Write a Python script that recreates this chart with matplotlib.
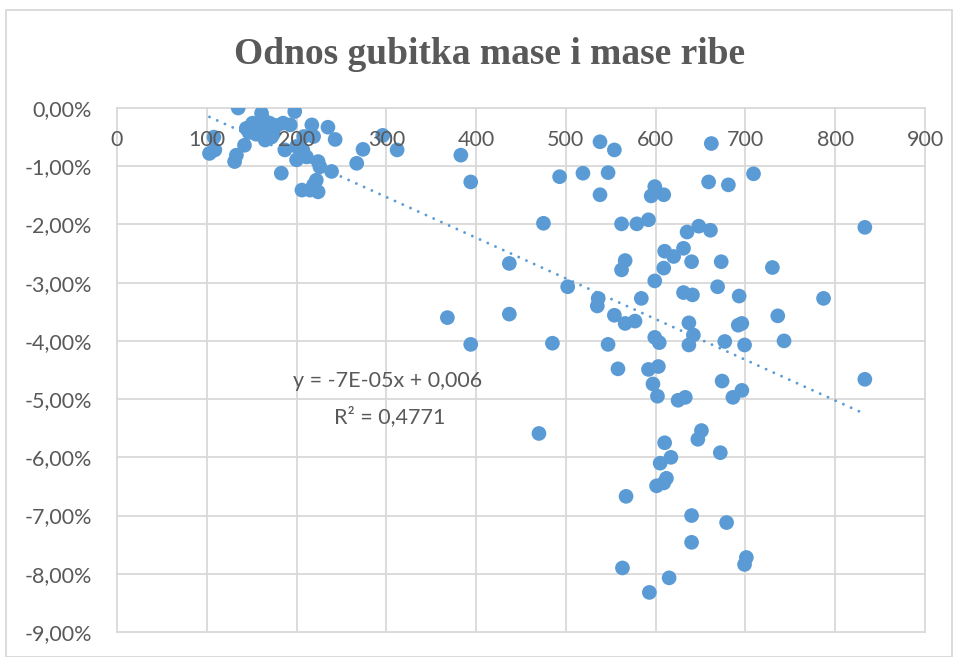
import numpy as np
import matplotlib
matplotlib.use("Agg")
import matplotlib.pyplot as plt
from matplotlib.ticker import FuncFormatter, MultipleLocator
from matplotlib.patches import Rectangle

# ---- data: fish mass (g) and mass loss (%) ----
mass = [103, 109, 108, 131, 133, 135, 142, 144, 147, 151, 155, 158, 161, 163, 165,
        167, 170, 172, 174, 178, 185, 187, 183, 193, 198, 200, 200, 207, 211, 208,
        217, 219, 224, 226, 239, 222, 206, 215, 224, 219, 235, 243, 267, 274, 296,
        312,
        368, 383, 394, 394, 437, 437, 470, 475, 485, 493, 502, 519, 536, 535, 538,
        538, 547, 547, 554, 554, 558, 562, 562, 566, 567, 563, 566, 577, 579, 584,
        592, 592, 593, 595, 599, 599, 599, 597, 603, 604, 602, 601, 605, 609, 609,
        610, 609, 610, 612, 615, 617, 620, 625, 631, 631, 633, 635, 637, 637, 640,
        641, 640, 640, 642, 647, 648, 651, 659, 661, 662, 669, 672, 673, 674, 677,
        679, 681, 686, 692, 693, 696, 696, 699, 699, 701, 709, 730, 736, 743, 787,
        833, 833]
loss_pct = [-0.78, -0.72, -0.50, -0.92, -0.81, 0.00, -0.64, -0.35, -0.42, -0.26, -0.45,
            -0.30, -0.09, -0.20, -0.55, -0.38, -0.26, -0.50, -0.45, -0.30, -0.26, -0.72,
            -1.12, -0.29, -0.06, -0.66, -0.89, -0.72, -0.84, -0.49, -0.29, -0.49, -0.92,
            -1.01, -1.09, -1.24, -1.41, -1.41, -1.44, -1.32, -0.33, -0.54, -0.95, -0.71,
            -0.47, -0.72,
            -3.60, -0.81, -1.27, -4.06, -2.67, -3.54, -5.59, -1.98, -4.04, -1.18, -3.07,
            -1.12, -3.27, -3.40, -0.58, -1.49, -1.11, -4.06, -0.72, -3.56, -4.48, -1.99,
            -2.78, -2.62, -6.67, -7.90, -3.70, -3.66, -1.99, -3.27, -1.92, -4.49, -8.32,
            -1.51, -1.35, -2.97, -3.94, -4.74, -4.44, -4.03, -4.95, -6.49, -6.10, -6.44,
            -1.49, -2.46, -2.75, -5.75, -6.36, -8.07, -6.00, -2.55, -5.02, -2.41, -3.17,
            -4.97, -2.13, -3.69, -4.07, -2.64, -3.21, -7.00, -7.46, -3.90, -5.69, -2.03,
            -5.54, -1.27, -2.10, -0.61, -3.07, -5.92, -2.64, -4.69, -4.01, -7.12, -1.32,
            -4.97, -3.73, -3.23, -3.70, -4.85, -4.07, -7.84, -7.72, -1.13, -2.74, -3.57,
            -4.00, -3.27, -2.05, -4.66]

title = "Odnos gubitka mase i mase ribe"
eq_text = "y = -7E-05x + 0,006"
r2_text = "R² = 0,4771"
x_ticks = [0, 100, 200, 300, 400, 500, 600, 700, 800, 900]
y_ticks = [0, -1, -2, -3, -4, -5, -6, -7, -8, -9]

blue = "#5B9BD5"
grid_c = "#D9D9D9"
txt_c = "#595959"

plt.rcParams['font.family'] = ['Lato', 'DejaVu Sans']

W, H = 958, 657
fig = plt.figure(figsize=(W / 100, H / 100), dpi=100)
fig.patch.set_facecolor("white")

# chart-area border
fig.patches.append(Rectangle((6 / W, 0), (952 - 6) / W, 1 - 10 / H,
                             transform=fig.transFigure, fill=False,
                             edgecolor=grid_c, linewidth=1.3))

ax = fig.add_axes([117 / W, 1 - 632 / H, (925 - 117) / W, (632 - 108) / H])
x = np.array(mass, dtype=float)
y = np.array(loss_pct, dtype=float)

# gridlines (below the markers)
for xv in x_ticks:
    ax.axvline(xv, color=grid_c, linewidth=1.3, clip_on=False, zorder=0)
for yv in y_ticks:
    ax.axhline(yv, color=grid_c, linewidth=1.3, clip_on=False, zorder=0)

ax.scatter(x, y, s=112, color=blue, edgecolors="none", zorder=1)

# linear trendline
k, b = np.polyfit(x, y, 1)
xt = np.array([x.min(), x.max()])
ax.plot(xt, k * xt + b, color=blue, linewidth=2.1, linestyle=(0, (0.01, 2.9)),
        dash_capstyle="round", zorder=1.5)

ax.set_xlim(0, 900)
ax.set_ylim(-9, 0)
ax.set_xticks(x_ticks)
ax.set_yticks(y_ticks)
ax.yaxis.set_major_formatter(FuncFormatter(lambda v, p: f"{v:.2f}".replace(".", ",") + "%"))
ax.set_axisbelow(False)

ax.spines['bottom'].set_position(('data', 0))
for s in ['top', 'right', 'bottom', 'left']:
    ax.spines[s].set_visible(False)

ax.tick_params(axis='x', length=0, pad=16, labelsize=15.5, labelcolor=txt_c)
ax.tick_params(axis='y', length=0, pad=18, labelsize=15.5, labelcolor=txt_c)

fig.text(490 / W, 1 - 55 / H, title, ha="center", va="center",
         family=["Liberation Serif", "DejaVu Serif"], fontweight="bold",
         fontsize=27, color=txt_c)

fig.text(388 / W, 1 - 381 / H, eq_text, ha="center", va="center",
         fontsize=15.5, color=txt_c)
fig.text(390 / W, 1 - 417 / H, r2_text, ha="center", va="center",
         fontsize=15.5, color=txt_c)

fig.savefig("out.png", dpi=100, facecolor="white")
